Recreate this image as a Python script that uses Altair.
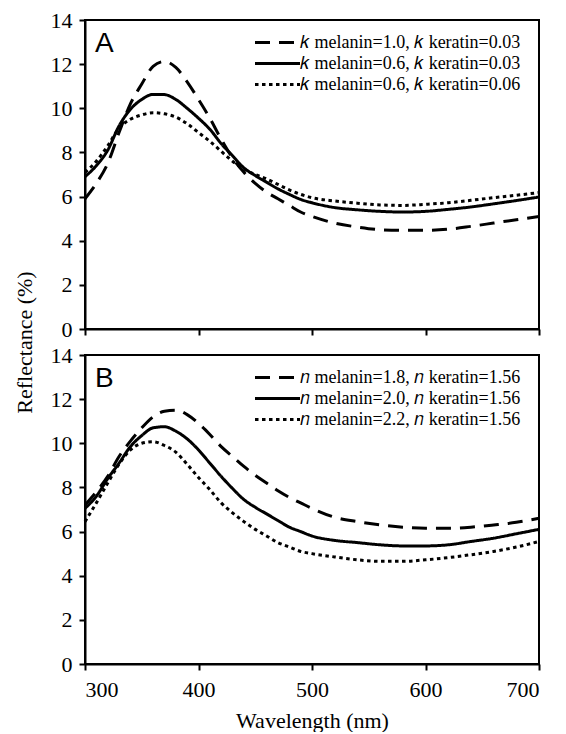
import altair as alt
import pandas as pd

wavelength = [300, 310, 320, 330, 340, 350, 360, 370, 380, 390, 400, 410, 420, 430, 440,
              450, 460, 470, 480, 490, 500, 520, 540, 560, 580, 600, 620, 640, 660, 680, 700]

# Panel A (k variations)
a_k10_003 = [5.9, 6.6, 7.5, 8.9, 10.2, 11.1, 11.9, 12.12, 11.85, 11.2, 10.4, 9.55, 8.6, 7.75, 7.1,
             6.6, 6.2, 5.9, 5.6, 5.3, 5.1, 4.8, 4.62, 4.5, 4.47, 4.47, 4.52, 4.65, 4.8, 4.95, 5.1]
a_k06_003 = [6.9, 7.4, 8.1, 9.2, 9.95, 10.4, 10.63, 10.62, 10.4, 10.0, 9.55, 9.05, 8.4, 7.85, 7.3,
             6.95, 6.65, 6.35, 6.1, 5.87, 5.72, 5.5, 5.4, 5.33, 5.3, 5.33, 5.42, 5.53, 5.67, 5.82, 5.98]
a_k06_006 = [7.1, 7.6, 8.3, 9.1, 9.5, 9.7, 9.8, 9.75, 9.6, 9.3, 8.9, 8.5, 8.05, 7.6, 7.25,
             7.0, 6.8, 6.55, 6.3, 6.1, 5.95, 5.8, 5.7, 5.62, 5.6, 5.65, 5.72, 5.83, 5.95, 6.06, 6.18]

# Panel B (n variations)
b_n18 = [7.2, 7.8, 8.5, 9.4, 10.1, 10.7, 11.2, 11.45, 11.5, 11.3, 10.9, 10.4, 9.85, 9.4, 8.95,
         8.55, 8.2, 7.85, 7.55, 7.3, 7.05, 6.65, 6.45, 6.3, 6.2, 6.15, 6.15, 6.2, 6.3, 6.42, 6.6]
b_n20 = [7.05, 7.6, 8.4, 9.1, 9.85, 10.35, 10.7, 10.75, 10.55, 10.2, 9.7, 9.1, 8.5, 7.95, 7.45,
         7.1, 6.8, 6.5, 6.2, 6.0, 5.8, 5.6, 5.5, 5.4, 5.35, 5.35, 5.4, 5.55, 5.7, 5.9, 6.1]
b_n22 = [6.45, 7.3, 8.2, 9.05, 9.7, 10.0, 10.07, 9.9, 9.6, 9.05, 8.45, 7.9, 7.3, 6.85, 6.45,
         6.1, 5.8, 5.5, 5.3, 5.1, 5.0, 4.85, 4.72, 4.65, 4.65, 4.72, 4.82, 4.95, 5.1, 5.3, 5.55]

labels_a = ["𝑘 melanin=1.0, 𝑘 keratin=0.03",
            "𝑘 melanin=0.6, 𝑘 keratin=0.03",
            "𝑘 melanin=0.6, 𝑘 keratin=0.06"]
labels_b = ["𝑛 melanin=1.8, 𝑛 keratin=1.56",
            "𝑛 melanin=2.0, 𝑛 keratin=1.56",
            "𝑛 melanin=2.2, 𝑛 keratin=1.56"]
y_ticks = [0, 2, 4, 6, 8, 10, 12, 14]
x_ticks = [300, 400, 500, 600, 700]
dashes = [[15, 9], [1, 0], [3.5, 3.5]]

SERIF = "Liberation Serif"
SANS = "Liberation Sans"


def long_df(series, labels):
    rows = []
    for vals, lab in zip(series, labels):
        for w, v in zip(wavelength, vals):
            rows.append({"wl": w, "refl": v, "series": lab})
    return pd.DataFrame(rows)


df_a = long_df([a_k10_003, a_k06_003, a_k06_006], labels_a)
df_b = long_df([b_n18, b_n20, b_n22], labels_b)

W, H = 454, 309


def panel(df, labels, letter, bottom):
    xaxis = alt.Axis(values=x_ticks, title="Wavelength (nm)", labelPadding=9, titlePadding=10) if bottom \
        else alt.Axis(values=x_ticks, labels=False, title=None)
    yaxis = alt.Axis(values=y_ticks, title=None, labelPadding=7) if bottom \
        else alt.Axis(values=y_ticks, title="Reflectance (%)", titleY=H + 13, titlePadding=14, labelPadding=7)
    lines = alt.Chart(df).mark_line(color="black", strokeWidth=3, interpolate="monotone").encode(
        x=alt.X("wl:Q", scale=alt.Scale(domain=[300, 700], nice=False), axis=xaxis),
        y=alt.Y("refl:Q", scale=alt.Scale(domain=[0, 14], nice=False), axis=yaxis),
        strokeDash=alt.StrokeDash(
            "series:N",
            scale=alt.Scale(domain=labels, range=dashes),
            legend=alt.Legend(
                title=None, orient="none", legendX=182, legendY=12,
                symbolType="M-2.5,0H2.5", symbolSize=324, symbolStrokeWidth=3,
                symbolStrokeColor="black", symbolFillColor="transparent",
                labelFont=SERIF, labelFontSize=18, labelColor="black", labelOffset=12,
                rowPadding=1, labelLimit=400,
            ),
        ),
        detail="series:N",
    )
    txt = alt.Chart(pd.DataFrame({"t": [letter]})).mark_text(
        align="left", baseline="alphabetic", font=SANS, fontSize=28, color="black"
    ).encode(text="t:N", x=alt.value(10), y=alt.value(32))
    return alt.layer(lines, txt).properties(width=W, height=H)


chart = alt.vconcat(
    panel(df_a, labels_a, "A", False),
    panel(df_b, labels_b, "B", True),
    spacing=26, bounds="flush",
).resolve_scale(strokeDash="independent").resolve_legend(strokeDash="independent").properties(
    padding={"top": 0, "left": 4, "right": 5, "bottom": 0}
).configure_view(
    stroke="black", strokeWidth=2
).configure_axis(
    labelFont=SERIF, labelFontSize=22, labelColor="black",
    titleFont=SERIF, titleFontSize=22, titleFontWeight="normal", titleColor="black",
    domainColor="black", domainWidth=2, tickColor="black", tickWidth=2, tickSize=6, grid=False,
)

chart.save("out.html", embed_options={"renderer": "svg", "actions": False})
